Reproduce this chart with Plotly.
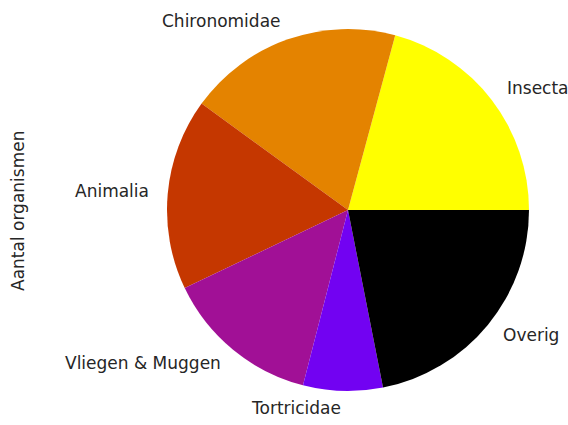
import math
import plotly.graph_objects as go

labels = ["Insecta", "Chironomidae", "Animalia", "Vliegen & Muggen", "Tortricidae", "Overig"]
values = [20.8, 19.2, 17.1, 13.9, 7.1, 21.9]
colors = ["#ffff00", "#e48300", "#c53700", "#a11096", "#7202f2", "#000000"]

W, H = 568, 425
cx, cy, R = 348, 210, 181  # pixel center/radius of pie

total = sum(values)
fig = go.Figure(go.Pie(
    labels=labels, values=values, sort=False, direction="counterclockwise",
    rotation=90 - 360 * values[0] / total,
    marker=dict(colors=colors, line=dict(width=0)),
    textinfo="none", hoverinfo="label+value", showlegend=False,
    domain=dict(x=[(cx - R) / W, (cx + R) / W], y=[(H - cy - R) / H, (H - cy + R) / H]),
))

FONT = dict(family="DejaVu Sans", size=17, color="#262626")
annotations = []
start = 0.0
for lab, v in zip(labels, values):
    ang = 2 * math.pi * (start + v / 2) / total
    start += v
    dx = 1.1 * R * math.cos(ang)
    dy = 1.1 * R * math.sin(ang)
    annotations.append(dict(
        x=(cx + dx + (-1 if dx > 0 else 1)) / W, y=(H - cy + dy + 1) / H,
        xref="paper", yref="paper",
        text=lab, showarrow=False, xanchor="left" if dx > 0 else "right",
        yanchor="middle", font=FONT,
    ))
annotations.append(dict(
    x=18 / W, y=(H - 211) / H, xref="paper", yref="paper", text="Aantal organismen",
    showarrow=False, textangle=-90, xanchor="center", yanchor="middle", font=FONT,
))

fig.update_layout(
    width=W, height=H, margin=dict(l=0, r=0, t=0, b=0),
    paper_bgcolor="white", plot_bgcolor="white", annotations=annotations,
)
fig.write_html("out.html", config={"displayModeBar": False},
               post_script="document.body.style.margin='0px';")
